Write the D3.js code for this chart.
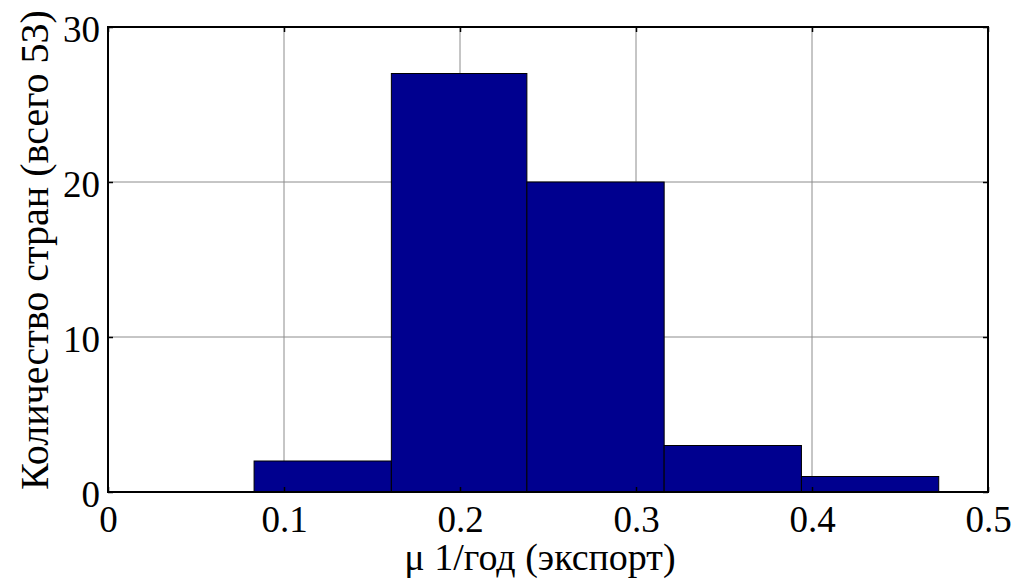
<!DOCTYPE html>
<html>
<head>
<meta charset="utf-8">
<script src="https://cdn.jsdelivr.net/npm/d3@7"></script>
</head>
<body style="margin:0">
<script>
// histogram bins (left edge, right edge) and counts
var binEdges = [0.083, 0.161, 0.238, 0.316, 0.394, 0.472];
var counts = [2, 27, 20, 3, 1];
var xTicks = [0, 0.1, 0.2, 0.3, 0.4, 0.5];
var yTicks = [0, 10, 20, 30];

var margin = {top: 27, right: 31, bottom: 88, left: 108},
    width = 1019 - margin.left - margin.right,
    height = 580 - margin.top - margin.bottom;

var root = d3.select("body")
  .append("svg")
    .attr("width", 1019)
    .attr("height", 580);
var svg = root.append("g")
    .attr("transform", "translate(" + margin.left + "," + margin.top + ")");

var x = d3.scaleLinear().domain([0, 0.5]).range([0, width]);
var y = d3.scaleLinear().domain([0, 30]).range([height, 0]);

// grid
svg.selectAll(".gx")
  .data(xTicks.slice(1, -1))
  .enter().append("line")
    .attr("x1", function(d) { return x(d); })
    .attr("x2", function(d) { return x(d); })
    .attr("y1", 0).attr("y2", height)
    .attr("stroke", "#8c8c8c").attr("stroke-width", 1);
svg.selectAll(".gy")
  .data(yTicks.slice(1, -1))
  .enter().append("line")
    .attr("y1", function(d) { return y(d); })
    .attr("y2", function(d) { return y(d); })
    .attr("x1", 0).attr("x2", width)
    .attr("stroke", "#8c8c8c").attr("stroke-width", 1);

// bars
var bins = counts.map(function(c, i) { return {x0: binEdges[i], x1: binEdges[i + 1], n: c}; });
svg.selectAll(".bar")
  .data(bins)
  .enter().append("rect")
    .attr("x", function(d) { return x(d.x0); })
    .attr("y", function(d) { return y(d.n); })
    .attr("width", function(d) { return x(d.x1) - x(d.x0); })
    .attr("height", function(d) { return height - y(d.n); })
    .attr("fill", "#00008f")
    .attr("stroke", "#000")
    .attr("stroke-width", 1);

// axes: ticks inward, labels outside
var axB = svg.append("g")
  .attr("transform", "translate(0," + height + ")")
  .call(d3.axisBottom(x).tickValues(xTicks).tickSize(-5).tickFormat(d3.format("")));
var axT = svg.append("g")
  .call(d3.axisTop(x).tickValues(xTicks).tickSize(-5).tickFormat(""));
var axL = svg.append("g")
  .call(d3.axisLeft(y).tickValues(yTicks).tickSize(-5));
var axR = svg.append("g")
  .attr("transform", "translate(" + width + ",0)")
  .call(d3.axisRight(y).tickValues(yTicks).tickSize(-5).tickFormat(""));

[axB, axT, axL, axR].forEach(function(g) {
  g.select(".domain").remove();
  g.attr("font-family", "Liberation Serif").attr("font-size", 37);
  g.selectAll("line").attr("stroke", "#000").attr("stroke-width", 1.5);
  g.selectAll("text").attr("fill", "#000");
});
axB.selectAll("text").attr("y", 40).attr("dy", null);
axL.selectAll("text").attr("x", -8).attr("dy", null).attr("y", 14);

// box
svg.append("rect")
  .attr("x", 0).attr("y", 0)
  .attr("width", width).attr("height", height)
  .attr("fill", "none").attr("stroke", "#000").attr("stroke-width", 2);

// labels
svg.append("text")
  .text("μ 1/год (экспорт)")
  .attr("text-anchor", "middle")
  .attr("x", width / 2 - 8)
  .attr("y", height + 78)
  .attr("font-family", "Liberation Serif")
  .attr("font-size", 38);

svg.append("text")
  .text("Количество стран (всего 53)")
  .attr("text-anchor", "middle")
  .attr("transform", "translate(-60,223)rotate(-90)")
  .attr("font-family", "Liberation Serif")
  .attr("font-size", 40);
</script>
</body>
</html>
